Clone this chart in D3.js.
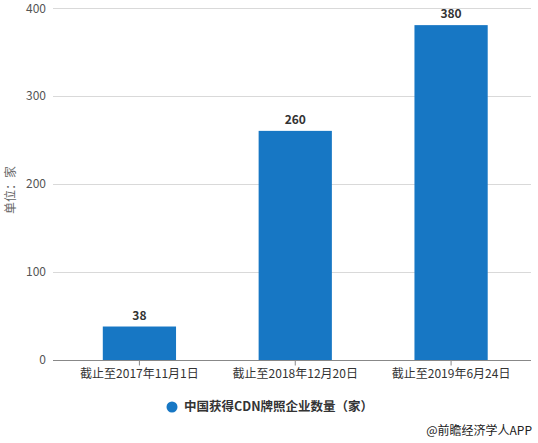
<!DOCTYPE html>
<html><head><meta charset="utf-8">
<script src="https://cdn.jsdelivr.net/npm/d3@7/dist/d3.min.js"></script>
<style>body{margin:0;background:#fff;}svg{display:block;font-family:"Microsoft YaHei","Noto Sans CJK SC",sans-serif;}</style>
</head><body><svg id="c" width="538" height="443"></svg>
<script>
const categories = ["截止至2017年11月1日","截止至2018年12月20日","截止至2019年6月24日"];
const values = [38, 260, 380];
const yTicks = [0, 100, 200, 300, 400];
const seriesName = "中国获得CDN牌照企业数量（家）";

const svg = d3.select("#c");
const x = d3.scaleBand().domain(categories).range([61.5, 529]).paddingInner(0.53).paddingOuter(0.265);
const y = d3.scaleLinear().domain([0, 400]).range([360, 7.5]);
const color = "#1777c4";

// gridlines
svg.append("g").selectAll("line").data(yTicks.filter(d=>d>0)).join("line")
  .attr("x1", 53).attr("x2", 531).attr("y1", d=>Math.round(y(d))+0.5).attr("y2", d=>Math.round(y(d))+0.5)
  .attr("stroke", "#d9d9d9").attr("stroke-width", 1);

// y labels
svg.append("g").selectAll("text").data(yTicks).join("text")
  .attr("x", 46).attr("y", d=>y(d)).attr("dy", d=>d===400 ? "0.45em" : "0.35em").attr("text-anchor", "end")
  .attr("font-size", 12).attr("fill", "#555").text(d=>d);

// unit label
svg.append("text").attr("transform", "translate(15,190) rotate(-90)")
  .attr("text-anchor", "middle").attr("font-size", 12).attr("fill", "#666").text("单位：家");

// bars
svg.append("g").selectAll("rect").data(values).join("rect")
  .attr("x", (d,i)=>x(categories[i])).attr("width", x.bandwidth())
  .attr("y", d=>y(d)).attr("height", d=>y(0)-y(d)).attr("fill", color);

// value labels
svg.append("g").selectAll("text").data(values).join("text")
  .attr("x", (d,i)=>x(categories[i])+x.bandwidth()/2).attr("y", d=>y(d)-7)
  .attr("text-anchor", "middle").attr("font-size", 12).attr("font-weight", "bold").attr("fill", "#333").text(d=>d);

// x axis
const xa = d3.axisBottom(x).tickSize(5).tickSizeOuter(0);
const gx = svg.append("g").attr("transform", "translate(0,360.5)").call(xa);
gx.select(".domain").remove();
gx.append("line").attr("x1", 53).attr("x2", 531).attr("stroke", "#888");
gx.selectAll(".tick line").attr("stroke", "#888");
gx.selectAll(".tick text").attr("font-size", 12).attr("fill", "#333").attr("y", 9)
  .attr("font-family", "'Microsoft YaHei','Noto Sans CJK SC',sans-serif");

// legend
svg.append("circle").attr("cx", 172).attr("cy", 407).attr("r", 5.5).attr("fill", color);
svg.append("text").attr("x", 184).attr("y", 407).attr("dy", "0.35em").attr("font-size", 12.5)
  .attr("font-weight", "bold").attr("fill", "#333").text(seriesName);

// source
svg.append("text").attr("x", 532).attr("y", 431).attr("dy", "0.35em").attr("text-anchor", "end")
  .attr("font-size", 12).attr("fill", "#222").text("@前瞻经济学人APP");
</script></body></html>
